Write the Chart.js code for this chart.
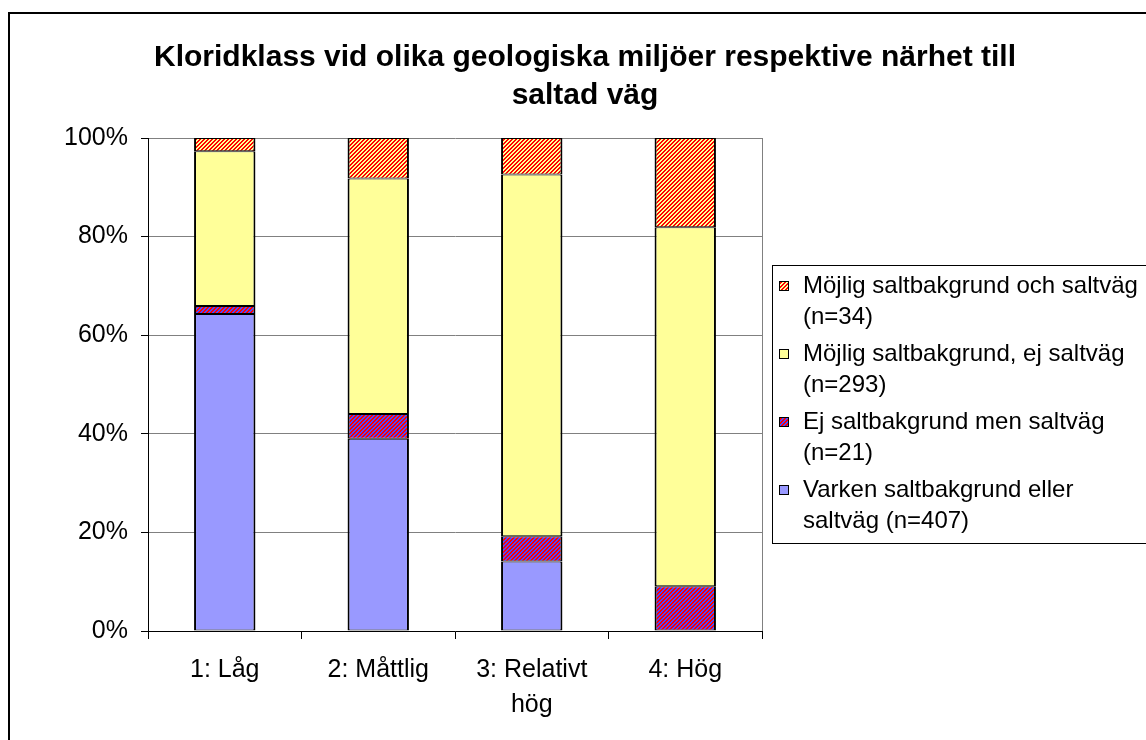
<!DOCTYPE html>
<html>
<head>
<meta charset="utf-8">
<script src="https://cdn.jsdelivr.net/npm/chart.js@4"></script>
<style>
  body { margin: 0; background: #fff; overflow: hidden; }
</style>
</head>
<body>
<canvas id="kloridChart" width="1146" height="740"></canvas>
<script>
// data (procent per kloridklass)
const categories = ['1: Låg', '2: Måttlig', ['3: Relativt', 'hög'], '4: Hög'];
const varkenSalt = [64.3, 39.0, 14.1, 0];
const ejBakgrundMenVag = [1.6, 5.0, 5.1, 9.1];
const mojligEjVag = [31.4, 47.8, 73.4, 72.8];
const mojligOchVag = [2.7, 8.2, 7.4, 18.1];
const yTicks = [0, 20, 40, 60, 80, 100];

const titleLines = ['Kloridklass vid olika geologiska miljöer respektive närhet till', 'saltad väg'];
const legendVarken = ['Varken saltbakgrund eller', 'saltväg (n=407)'];
const legendEj = ['Ej saltbakgrund men saltväg', '(n=21)'];
const legendMojligEj = ['Möjlig saltbakgrund, ej saltväg', '(n=293)'];
const legendMojligOch = ['Möjlig saltbakgrund och saltväg', '(n=34)'];

const FONT = '"Liberation Sans", Arial, sans-serif';
Chart.defaults.font.family = FONT;
Chart.defaults.color = '#000';

const ctx = document.getElementById('kloridChart').getContext('2d');

// randiga mönster
function stripes(bg, fg) {
  const c = document.createElement('canvas');
  c.width = 4; c.height = 4;
  const g = c.getContext('2d');
  g.fillStyle = bg;
  g.fillRect(0, 0, 4, 4);
  g.fillStyle = fg;
  for (let y = 0; y < 4; y++) {
    for (let x = 0; x < 4; x++) {
      if ((x + y) % 4 < 2) g.fillRect(x, y, 1, 1);
    }
  }
  return ctx.createPattern(c, 'repeat');
}
const redYellow = stripes('#ff0000', '#ffff99');
const redBlue = stripes('#ff0000', '#4b4bff');

const frame = {
  id: 'frame',
  beforeDraw(chart) {
    const c = chart.ctx;
    c.save();
    c.fillStyle = '#fff';
    c.fillRect(0, 0, chart.width, chart.height);
    c.strokeStyle = '#000';
    c.lineWidth = 2;
    c.beginPath();
    c.moveTo(9, chart.height + 5);
    c.lineTo(9, 13);
    c.lineTo(chart.width + 5, 13);
    c.stroke();
    c.restore();
  },
  afterDatasetsDraw(chart) {
    const c = chart.ctx;
    const a = chart.chartArea;
    c.save();
    c.strokeStyle = '#808080';
    c.lineWidth = 1;
    c.beginPath();
    c.moveTo(Math.round(a.right) + 0.5, a.top);
    c.lineTo(Math.round(a.right) + 0.5, a.bottom);
    c.stroke();
    c.restore();
  },
  afterDraw(chart) {
    const c = chart.ctx;
    c.save();
    // titel
    c.fillStyle = '#000';
    c.font = 'bold 30px ' + FONT;
    c.textAlign = 'center';
    c.textBaseline = 'alphabetic';
    titleLines.forEach((t, i) => c.fillText(t, 585, 66 + i * 38));

    // legend
    c.strokeStyle = '#000';
    c.lineWidth = 1;
    c.strokeRect(772.5, 265.5, 420, 278);
    c.font = '24px ' + FONT;
    c.textAlign = 'left';
    c.textBaseline = 'middle';
    const ds = chart.data.datasets.slice().reverse();
    ds.forEach((d, i) => {
      const y0 = 286 + i * 68;
      c.fillStyle = d.backgroundColor;
      c.fillRect(779, y0 - 5, 10, 10);
      c.strokeRect(779.5, y0 - 4.5, 9, 9);
      c.fillStyle = '#000';
      d.legendText.forEach((t, j) => c.fillText(t, 803, y0 + j * 31));
    });
    c.restore();
  }
};

const barBorder = { top: 1, bottom: 1, left: 2, right: 2 };

const chart = new Chart(ctx, {
  type: 'bar',
  data: {
    labels: categories,
    datasets: [
      {
        label: legendVarken.join(' '),
        legendText: legendVarken,
        data: varkenSalt,
        backgroundColor: '#9999ff',
      },
      {
        label: legendEj.join(' '),
        legendText: legendEj,
        data: ejBakgrundMenVag,
        backgroundColor: redBlue,
      },
      {
        label: legendMojligEj.join(' '),
        legendText: legendMojligEj,
        data: mojligEjVag,
        backgroundColor: '#ffff99',
      },
      {
        label: legendMojligOch.join(' '),
        legendText: legendMojligOch,
        data: mojligOchVag,
        backgroundColor: redYellow,
      }
    ].map(d => Object.assign(d, {
      borderColor: '#000',
      borderWidth: barBorder,
      borderSkipped: false,
      barPercentage: 0.4,
      categoryPercentage: 1
    }))
  },
  options: {
    responsive: false,
    animation: false,
    devicePixelRatio: 1,
    layout: { padding: { top: 138, right: 384, bottom: 0, left: 0 } },
    scales: {
      x: {
        stacked: true,
        grid: { drawOnChartArea: false, drawTicks: true, tickLength: 8, tickColor: '#000' },
        border: { color: '#000', width: 1 },
        ticks: {
          font: { size: 25, lineHeight: 1.4 },
          padding: 14,
          maxRotation: 0,
          autoSkip: false
        },
        afterFit: (scale) => { scale.height = 109; }
      },
      y: {
        stacked: true,
        min: 0,
        max: 100,
        afterBuildTicks: (scale) => { scale.ticks = yTicks.map(v => ({ value: v })); },
        grid: { color: '#808080', tickLength: 7, tickColor: '#000' },
        border: { color: '#000', width: 1 },
        ticks: {
          font: { size: 25 },
          padding: 13,
          callback: (v) => v + '%'
        },
        afterFit: (scale) => { scale.width = 148; }
      }
    },
    plugins: {
      legend: { display: false },
      title: { display: false },
      tooltip: { enabled: false }
    }
  },
  plugins: [frame]
});
</script>
</body>
</html>
